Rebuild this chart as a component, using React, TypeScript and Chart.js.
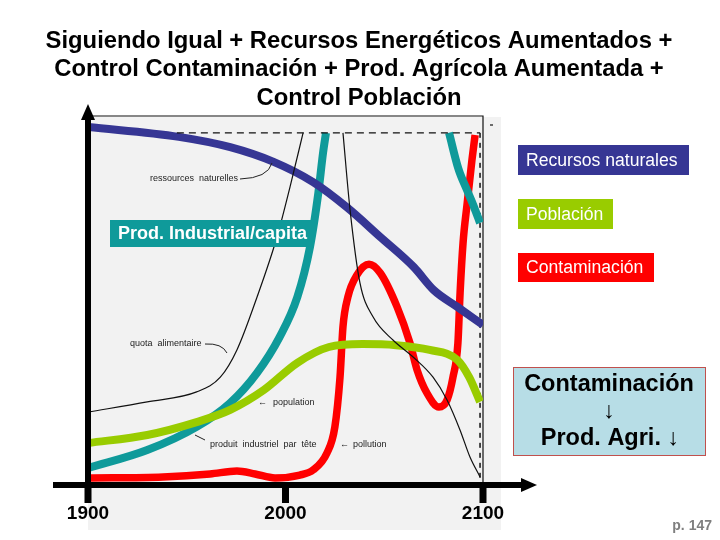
import React, { useEffect, useRef } from "react";
import { Chart, registerables } from "chart.js";

Chart.register(...registerables);

// ---- Series (x = year, y = share of the plot height, 0..100) ----
const recursosYears = [1900, 1946, 1972, 1994, 2014, 2031, 2048, 2065, 2075, 2087, 2100];
const recursosValues = [97.3, 94.6, 91.8, 87.8, 82.3, 75.5, 67.4, 59.2, 53, 48.4, 43.5];

const poblacionYears = [1900, 1930, 1955, 1972, 1989, 2006, 2022, 2039, 2056, 2073, 2087, 2093, 2098.5];
const poblacionValues = [11.4, 13.6, 17.1, 20.4, 25.8, 33.2, 37.5, 38.3, 38, 36.7, 34, 29.3, 22.6];

const industriaYearsA = [1900, 1930, 1955, 1972, 1985.5, 1997, 2006, 2012.4, 2016.6, 2019, 2020.5];
const industriaValuesA = [4.6, 9.5, 15.8, 22.3, 30.4, 40.2, 51.1, 64.7, 79.3, 90.2, 95.7];
const industriaYearsB = [2082.8, 2087.5, 2092, 2095.5, 2098.5];
const industriaValuesB = [95.7, 86, 80, 75.5, 71.2];

const contaminacionYears = [
  1900, 1938, 1961.8, 1975.4, 1984.6, 1994.7, 2007.3, 2014, 2021, 2025, 2027.6, 2029.1, 2031.6,
  2036.2, 2042.3, 2048, 2056.5, 2063, 2066.6, 2071.6, 2077.7, 2081.8, 2084.8, 2087.3, 2088.4,
  2089.9, 2092, 2094.4, 2096,
];
const contaminacionValues = [
  1.9, 2.2, 3, 3.8, 3, 1.9, 2.7, 4.1, 8.7, 15.8, 29.3, 43, 51.1,
  57.1, 60, 57.6, 48.4, 38.6, 31.3, 25, 21.2, 23.1, 29.3, 38.6, 52.2,
  65.8, 76.6, 88.3, 95.1,
];

// thin printed curves of the underlying figure
const cuotaYears = [1900, 1930, 1955, 1967, 1975.4, 1985.6, 1995.7, 2002.3, 2008.9];
const cuotaValues = [19.8, 22.6, 25.3, 29.3, 36.7, 51.1, 67.4, 81, 95.7];
const polucionYears = [2029.1, 2032.7, 2037.7, 2044.3, 2054.4, 2064.6, 2074.7, 2081.8, 2088.4, 2093.4, 2098.5];
const polucionValues = [95.7, 74.7, 54.9, 45.7, 39.4, 34.8, 29.3, 23.1, 14.9, 7.6, 2.2];
const techoYears = [1945, 2098.5];
const techoValues = [95.7, 95.7];

const tickYears = [1900, 2000, 2100];

const titleLines = [
  "Siguiendo Igual + Recursos Energéticos Aumentados +",
  "Control Contaminación + Prod. Agrícola Aumentada +",
  "Control Población",
];

const COLORS = {
  recursos: "#363694",
  poblacion: "#99cc00",
  industria: "#0f9a9a",
  contaminacion: "#ff0000",
};

const toPoints = (xs: number[], ys: number[]) => xs.map((x, i) => ({ x, y: ys[i] }));

const SANS = '"Liberation Sans", Arial, sans-serif';
const NARROW = '"Liberation Sans Narrow", "Arial Narrow", "Liberation Sans", Arial, sans-serif';

function box(ctx: CanvasRenderingContext2D, x: number, y: number, w: number, h: number, fill: string, text: string, font: string, color = "#ffffff") {
  ctx.fillStyle = fill;
  ctx.fillRect(x, y, w, h);
  ctx.fillStyle = color;
  ctx.font = font;
  ctx.textAlign = "left";
  ctx.textBaseline = "middle";
  ctx.fillText(text, x + 8, y + h / 2 + 1);
}

const slidePlugin = {
  id: "slideDecor",
  beforeDraw(chart: any) {
    const ctx: CanvasRenderingContext2D = chart.ctx;
    const area = chart.chartArea;
    ctx.save();
    ctx.fillStyle = "#ffffff";
    ctx.fillRect(0, 0, chart.width, chart.height);
    // scanned figure background
    ctx.fillStyle = "#f2f2f2";
    ctx.fillRect(area.left, area.top, area.right + 18 - area.left, 530 - area.top);
    // printed frame of the figure
    ctx.strokeStyle = "#111";
    ctx.lineWidth = 1.2;
    ctx.beginPath();
    ctx.moveTo(area.left + 4, area.top - 1);
    ctx.lineTo(area.right, area.top - 1);
    ctx.lineTo(area.right, area.bottom);
    ctx.stroke();
    ctx.beginPath();
    ctx.moveTo(area.right + 7, area.top + 8);
    ctx.lineTo(area.right + 10, area.top + 8);
    ctx.stroke();
    // dashed vertical limit near 2100
    const xs = chart.scales.x;
    const ys = chart.scales.y;
    ctx.setLineDash([5, 5]);
    ctx.lineWidth = 1.5;
    ctx.beginPath();
    ctx.moveTo(xs.getPixelForValue(2098.5), ys.getPixelForValue(95.7));
    ctx.lineTo(xs.getPixelForValue(2098.5), area.bottom);
    ctx.stroke();
    ctx.setLineDash([]);
    ctx.restore();
  },
  afterDatasetsDraw(chart: any) {
    const ctx: CanvasRenderingContext2D = chart.ctx;
    const area = chart.chartArea;
    const xs = chart.scales.x;
    const bottom = area.bottom;
    const left = area.left;
    ctx.save();

    // small printed annotations
    ctx.fillStyle = "#222";
    ctx.strokeStyle = "#222";
    ctx.lineWidth = 1;
    ctx.font = '9px "Liberation Sans", sans-serif';
    ctx.textBaseline = "middle";
    ctx.textAlign = "left";
    ctx.fillText("ressources  naturelles", 150, 179);
    ctx.beginPath();
    ctx.moveTo(240, 179);
    ctx.quadraticCurveTo(268, 178, 272, 163);
    ctx.stroke();
    ctx.fillText("quota  alimentaire", 130, 344);
    ctx.beginPath();
    ctx.moveTo(205, 344);
    ctx.quadraticCurveTo(222, 343, 227, 353);
    ctx.stroke();
    ctx.fillText("population", 273, 403);
    ctx.fillText("←", 258, 403);
    ctx.fillText("produit  industriel  par  tête", 210, 445);
    ctx.beginPath();
    ctx.moveTo(205, 440);
    ctx.lineTo(195, 435);
    ctx.stroke();
    ctx.fillText("pollution", 353, 445);
    ctx.fillText("←", 340, 445);

    // axes
    ctx.fillStyle = "#000";
    ctx.strokeStyle = "#000";
    ctx.lineWidth = 6;
    ctx.lineCap = "butt";
    ctx.beginPath();
    ctx.moveTo(left, bottom + 3);
    ctx.lineTo(left, 118);
    ctx.stroke();
    ctx.beginPath();
    ctx.moveTo(left - 7, 120);
    ctx.lineTo(left + 7, 120);
    ctx.lineTo(left, 104);
    ctx.closePath();
    ctx.fill();

    ctx.beginPath();
    ctx.moveTo(53, bottom);
    ctx.lineTo(523, bottom);
    ctx.stroke();
    ctx.beginPath();
    ctx.moveTo(521, bottom - 7);
    ctx.lineTo(521, bottom + 7);
    ctx.lineTo(537, bottom);
    ctx.closePath();
    ctx.fill();

    ctx.lineWidth = 7;
    ctx.font = "bold 19px " + NARROW;
    ctx.textAlign = "center";
    ctx.textBaseline = "middle";
    tickYears.forEach((yr) => {
      const px = xs.getPixelForValue(yr);
      ctx.beginPath();
      ctx.moveTo(px, bottom);
      ctx.lineTo(px, bottom + 18);
      ctx.stroke();
      ctx.fillText(String(yr), px, 514);
    });

    // title
    ctx.font = "bold 23.8px " + SANS;
    ctx.fillStyle = "#000";
    titleLines.forEach((t, i) => ctx.fillText(t, 359, 41 + i * 28.5));

    // series labels
    box(ctx, 518, 145, 171, 30, COLORS.recursos, "Recursos naturales", "17.6px " + SANS);
    box(ctx, 518, 199, 95, 30, COLORS.poblacion, "Población", "17.6px " + SANS);
    box(ctx, 518, 253, 136, 29, COLORS.contaminacion, "Contaminación", "17.6px " + SANS);
    box(ctx, 110, 220, 203, 27, COLORS.industria, "Prod. Industrial/capita", "bold 18px " + SANS);

    // note box
    ctx.fillStyle = "#b7dde6";
    ctx.fillRect(513.5, 367.5, 192, 88);
    ctx.strokeStyle = "#c0504d";
    ctx.lineWidth = 1;
    ctx.strokeRect(513.5, 367.5, 192, 88);
    ctx.fillStyle = "#000";
    ctx.font = "bold 23.5px " + SANS;
    ctx.textAlign = "center";
    ctx.fillText("Contaminación", 609, 385);
    ctx.fillText("↓", 609, 412);
    ctx.fillText("Prod. Agri. ↓", 610, 439);

    ctx.fillStyle = "#7f7f7f";
    ctx.font = "bold 14px " + SANS;
    ctx.textAlign = "right";
    ctx.fillText("p. 147", 712, 526);
    ctx.restore();
  },
};

export default function App() {
  const canvasRef = useRef<HTMLCanvasElement | null>(null);

  useEffect(() => {
    if (!canvasRef.current) return;
    const thick = (label: string, xsArr: number[], ysArr: number[], color: string, width = 8) => ({
      label,
      data: toPoints(xsArr, ysArr),
      borderColor: color,
      borderWidth: width,
      pointRadius: 0,
      fill: false,
      cubicInterpolationMode: "monotone" as const,
      borderCapStyle: "butt" as const,
    });
    const thin = (label: string, xsArr: number[], ysArr: number[], dash: number[] = []) => ({
      label,
      data: toPoints(xsArr, ysArr),
      borderColor: "#111",
      borderWidth: 1.2,
      borderDash: dash,
      pointRadius: 0,
      fill: false,
      cubicInterpolationMode: "monotone" as const,
    });

    const chart = new Chart(canvasRef.current, {
      type: "line",
      data: {
        datasets: [
          thin("quota alimentaire", cuotaYears, cuotaValues),
          thin("pollution", polucionYears, polucionValues),
          thin("limite", techoYears, techoValues, [7, 5]),
          thick("Recursos naturales", recursosYears, recursosValues, COLORS.recursos),
          thick("Población", poblacionYears, poblacionValues, COLORS.poblacion),
          thick("Prod. Industrial/capita", industriaYearsA, industriaValuesA, COLORS.industria),
          thick("Prod. Industrial/capita (2)", industriaYearsB, industriaValuesB, COLORS.industria),
          thick("Contaminación", contaminacionYears, contaminacionValues, COLORS.contaminacion, 7.5),
        ],
      },
      options: {
        responsive: false,
        animation: false,
        layout: { padding: { left: 88, right: 720 - 483, top: 117, bottom: 540 - 485 } },
        scales: {
          x: { type: "linear", min: 1900, max: 2100, display: false },
          y: { type: "linear", min: 0, max: 100, display: false },
        },
        plugins: {
          legend: { display: false },
          tooltip: { enabled: false },
          title: { display: false },
        },
        elements: { line: { borderJoinStyle: "round" } },
      },
      plugins: [slidePlugin],
    });
    return () => chart.destroy();
  }, []);

  return (
    <div style={{ position: "absolute", left: 0, top: 0, width: 720, height: 540 }}>
      <canvas ref={canvasRef} width={720} height={540} style={{ display: "block", width: 720, height: 540 }} />
    </div>
  );
}
